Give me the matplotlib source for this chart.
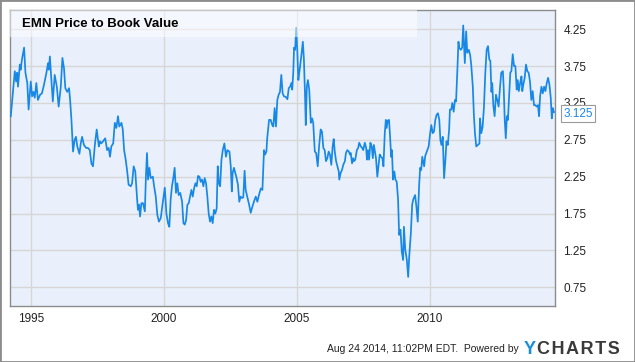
import matplotlib
matplotlib.use("Agg")
import matplotlib.pyplot as plt
from matplotlib.patches import Rectangle

plt.rcParams['font.family'] = ['Liberation Sans', 'DejaVu Sans']

# EMN price to book value (decimal year, value)
years = [
    1994.24, 1994.32, 1994.39, 1994.44, 1994.48, 1994.51, 1994.58, 1994.61, 1994.66, 1994.74,
    1994.79, 1994.86, 1994.91, 1994.99, 1995.04, 1995.09, 1995.14, 1995.20, 1995.26, 1995.34,
    1995.41, 1995.49, 1995.58, 1995.64, 1995.67, 1995.71, 1995.76, 1995.82, 1995.89, 1995.97,
    1996.04, 1996.12, 1996.18, 1996.24, 1996.29, 1996.36, 1996.43, 1996.47, 1996.52, 1996.58,
    1996.64, 1996.69, 1996.74, 1996.82, 1996.87, 1996.92, 1996.99, 1997.07, 1997.14, 1997.21,
    1997.27, 1997.33, 1997.40, 1997.47, 1997.55, 1997.59, 1997.64, 1997.71, 1997.79, 1997.86,
    1997.92, 1997.97, 1998.02, 1998.09, 1998.15, 1998.21, 1998.27, 1998.32, 1998.40, 1998.45,
    1998.50, 1998.56, 1998.61, 1998.67, 1998.75, 1998.80, 1998.86, 1998.92, 1998.99, 1999.02,
    1999.06, 1999.10, 1999.15, 1999.21, 1999.28, 1999.32, 1999.36, 1999.40, 1999.45, 1999.50,
    1999.58, 1999.62, 1999.69, 1999.75, 1999.81, 1999.88, 1999.95, 2000.03, 2000.09, 2000.15,
    2000.20, 2000.25, 2000.30, 2000.35, 2000.40, 2000.45, 2000.50, 2000.55, 2000.61, 2000.68,
    2000.73, 2000.78, 2000.83, 2000.88, 2000.93, 2000.98, 2001.03, 2001.08, 2001.13, 2001.18,
    2001.23, 2001.28, 2001.33, 2001.38, 2001.43, 2001.48, 2001.53, 2001.58, 2001.63, 2001.68,
    2001.73, 2001.78, 2001.83, 2001.88, 2001.93, 2001.98, 2002.02, 2002.06, 2002.11, 2002.16,
    2002.21, 2002.27, 2002.33, 2002.38, 2002.46, 2002.51, 2002.55, 2002.58, 2002.63, 2002.68,
    2002.73, 2002.78, 2002.83, 2002.88, 2002.93, 2002.98, 2003.03, 2003.07, 2003.13, 2003.20,
    2003.26, 2003.32, 2003.38, 2003.45, 2003.51, 2003.57, 2003.64, 2003.70, 2003.76, 2003.80,
    2003.85, 2003.88, 2003.95, 2004.01, 2004.07, 2004.11, 2004.16, 2004.21, 2004.26, 2004.31,
    2004.36, 2004.41, 2004.46, 2004.51, 2004.58, 2004.64, 2004.69, 2004.74, 2004.79, 2004.82,
    2004.86, 2004.89, 2004.93, 2004.95, 2004.97, 2005.01, 2005.05, 2005.10, 2005.16, 2005.22,
    2005.26, 2005.30, 2005.33, 2005.37, 2005.41, 2005.46, 2005.52, 2005.57, 2005.61, 2005.67,
    2005.72, 2005.78, 2005.83, 2005.89, 2005.94, 2005.99, 2006.04, 2006.09, 2006.14, 2006.19,
    2006.24, 2006.29, 2006.34, 2006.38, 2006.42, 2006.47, 2006.52, 2006.57, 2006.59, 2006.64,
    2006.69, 2006.74, 2006.80, 2006.84, 2006.89, 2006.95, 2006.99, 2007.02, 2007.07, 2007.11,
    2007.14, 2007.19, 2007.25, 2007.30, 2007.34, 2007.40, 2007.45, 2007.49, 2007.55, 2007.60,
    2007.63, 2007.67, 2007.71, 2007.76, 2007.81, 2007.85, 2007.89, 2007.92, 2007.97, 2008.02,
    2008.07, 2008.11, 2008.16, 2008.21, 2008.25, 2008.30, 2008.34, 2008.37, 2008.41, 2008.46,
    2008.50, 2008.54, 2008.57, 2008.61, 2008.66, 2008.70, 2008.75, 2008.80, 2008.84, 2008.89,
    2008.94, 2008.99, 2009.02, 2009.07, 2009.13, 2009.18, 2009.22, 2009.28, 2009.33, 2009.37,
    2009.44, 2009.49, 2009.54, 2009.59, 2009.63, 2009.67, 2009.71, 2009.78, 2009.82, 2009.90,
    2009.95, 2010.00, 2010.05, 2010.10, 2010.15, 2010.20, 2010.25, 2010.30, 2010.35, 2010.39,
    2010.43, 2010.48, 2010.53, 2010.58, 2010.62, 2010.67, 2010.72, 2010.75, 2010.80, 2010.84,
    2010.89, 2010.94, 2010.98, 2011.03, 2011.07, 2011.10, 2011.16, 2011.21, 2011.25, 2011.31,
    2011.36, 2011.40, 2011.46, 2011.51, 2011.55, 2011.61, 2011.65, 2011.69, 2011.74, 2011.80,
    2011.86, 2011.88, 2011.93, 2011.98, 2012.03, 2012.08, 2012.13, 2012.18, 2012.23, 2012.27,
    2012.31, 2012.34, 2012.38, 2012.43, 2012.48, 2012.53, 2012.58, 2012.63, 2012.68, 2012.74,
    2012.77, 2012.81, 2012.85, 2012.89, 2012.93, 2012.98, 2013.02, 2013.06, 2013.11, 2013.16,
    2013.21, 2013.26, 2013.30, 2013.34, 2013.39, 2013.44, 2013.47, 2013.51, 2013.56, 2013.61,
    2013.66, 2013.71, 2013.76, 2013.81, 2013.86, 2013.91, 2013.96, 2014.01, 2014.06, 2014.10,
    2014.14, 2014.19, 2014.24, 2014.29, 2014.34, 2014.39, 2014.44, 2014.49, 2014.54, 2014.58,
    2014.62, 2014.66,
]
pb_values = [
    3.07, 3.40, 3.68, 3.54, 3.66, 3.47, 3.77, 3.70, 3.84, 4.00,
    3.66, 3.52, 3.16, 3.54, 3.34, 3.40, 3.32, 3.52, 3.29, 3.36,
    3.38, 3.50, 3.66, 3.79, 3.70, 3.88, 3.59, 3.27, 3.63, 3.47,
    3.20, 3.47, 3.86, 3.72, 3.45, 3.40, 3.45, 3.29, 3.02, 2.59,
    2.75, 2.79, 2.66, 2.56, 2.70, 2.79, 2.68, 2.64, 2.64, 2.61,
    2.43, 2.39, 2.68, 2.89, 2.66, 2.73, 2.70, 2.73, 2.77, 2.61,
    2.64, 2.52, 2.66, 2.70, 2.98, 2.91, 3.07, 2.93, 2.98, 2.89,
    2.61, 2.48, 2.34, 2.14, 2.12, 2.16, 2.39, 2.32, 1.94, 1.80,
    1.87, 1.71, 1.89, 1.89, 1.78, 2.25, 2.57, 2.21, 2.37, 2.23,
    2.25, 2.14, 1.98, 1.73, 1.64, 1.69, 1.89, 2.10, 1.75, 1.62,
    1.57, 1.94, 2.12, 2.23, 2.37, 2.03, 2.16, 2.00, 2.03, 1.91,
    1.62, 1.60, 1.66, 1.87, 1.89, 1.98, 2.07, 1.98, 2.09, 2.16,
    2.12, 2.26, 2.25, 2.18, 2.21, 2.12, 2.23, 2.16, 1.98, 1.75,
    1.64, 1.71, 1.62, 1.80, 1.75, 1.82, 2.39, 2.16, 2.12, 2.48,
    2.61, 2.70, 2.52, 2.61, 2.59, 2.39, 2.05, 2.30, 2.37, 2.30,
    2.23, 2.14, 1.91, 1.98, 1.96, 1.97, 2.33, 2.07, 1.98, 1.87,
    1.76, 1.84, 1.91, 1.98, 1.91, 2.00, 2.09, 2.07, 2.61, 2.55,
    2.59, 2.77, 3.02, 3.02, 2.95, 2.93, 3.18, 2.93, 3.29, 3.36,
    3.40, 3.63, 3.38, 3.34, 3.33, 3.30, 3.45, 3.47, 3.52, 3.43,
    3.66, 4.00, 3.97, 4.13, 4.27, 3.97, 3.56, 3.70, 3.88, 4.08,
    3.84, 3.38, 2.95, 3.47, 3.56, 3.43, 2.98, 3.04, 2.98, 2.59,
    2.57, 2.39, 2.66, 2.89, 2.86, 2.64, 2.61, 2.46, 2.50, 2.59,
    2.55, 2.41, 2.66, 2.76, 2.59, 2.46, 2.39, 2.32, 2.21, 2.30,
    2.34, 2.41, 2.46, 2.57, 2.61, 2.59, 2.55, 2.57, 2.43, 2.50,
    2.46, 2.48, 2.61, 2.64, 2.71, 2.66, 2.64, 2.61, 2.71, 2.64,
    2.48, 2.61, 2.48, 2.71, 2.66, 2.50, 2.68, 2.61, 2.50, 2.25,
    2.41, 2.55, 2.52, 2.50, 2.39, 2.84, 3.02, 2.91, 3.01, 3.02,
    2.79, 2.52, 2.61, 2.21, 2.32, 2.21, 2.18, 1.94, 1.46, 1.53,
    1.23, 1.12, 1.57, 1.26, 1.12, 0.89, 1.17, 1.48, 1.87, 1.94,
    2.00, 1.84, 1.64, 2.12, 2.37, 2.34, 2.52, 2.39, 2.53, 2.61,
    2.66, 2.82, 2.95, 2.84, 2.86, 3.02, 3.09, 3.11, 3.02, 2.75,
    2.68, 2.79, 2.23, 2.48, 2.73, 2.68, 2.89, 3.16, 3.16, 3.25,
    3.13, 3.29, 3.27, 3.70, 4.08, 4.00, 3.97, 4.00, 4.30, 3.79,
    4.22, 3.93, 3.97, 3.90, 3.77, 3.47, 3.09, 2.84, 2.66, 2.68,
    2.70, 3.04, 2.84, 2.93, 3.20, 3.66, 3.97, 4.02, 3.84, 3.82,
    3.40, 3.52, 3.22, 3.07, 3.36, 3.29, 3.20, 3.45, 3.66, 3.68,
    3.47, 3.02, 2.77, 3.07, 3.02, 3.38, 3.66, 3.68, 3.91, 3.75,
    3.75, 3.43, 3.56, 3.41, 3.52, 3.61, 3.41, 3.50, 3.59, 3.77,
    3.68, 3.66, 3.54, 3.29, 3.41, 3.22, 3.22, 3.20, 3.22, 3.07,
    3.34, 3.47, 3.38, 3.47, 3.41, 3.52, 3.59, 3.50, 3.32, 3.04,
    3.18, 3.125,
]

y_ticks = [0.75, 1.25, 1.75, 2.25, 2.75, 3.25, 3.75, 4.25]
x_ticks = [1995, 2000, 2005, 2010]
last_value = "3.125"
title = "EMN Price to Book Value"
footer = "Aug 24 2014, 11:02PM EDT.  Powered by"

line_color = '#1788e6'
W, H = 635, 362

fig = plt.figure(figsize=(W / 100, H / 100), dpi=100)
fig.patch.set_facecolor('white')
ax = fig.add_axes([10 / W, (H - 306) / H, 545 / W, 296 / H])
ax.set_facecolor('#e9f0fb')

ax.plot(years, pb_values, color=line_color, lw=1.25, zorder=3)

ax.set_xlim(1994.21, 2014.70)
ax.set_ylim(0.496, 4.51)
ax.set_xticks(x_ticks)
ax.set_yticks(y_ticks)
ax.set_yticklabels([f"{t:.2f}" for t in y_ticks])
ax.yaxis.tick_right()
ax.tick_params(length=0, labelsize=8.5, labelcolor='#222222')
ax.tick_params(axis='y', pad=6)
ax.tick_params(axis='x', pad=5)
ax.grid(True, color='#d6d6d6', lw=1)
ax.set_axisbelow(True)
for s in ax.spines.values():
    s.set_color('#8c8c8c')
    s.set_linewidth(1)

# translucent title band
ax.add_patch(Rectangle((0, 1 - 27 / 296), 407 / 545, 27 / 296, transform=ax.transAxes,
                       facecolor='white', alpha=0.5, lw=0, zorder=4))
ax.text(12 / 545, 1 - 14 / 296, title, transform=ax.transAxes, fontsize=9.5,
        fontweight='bold', color='black', va='center', ha='left', zorder=5)

# last value flag
ax.annotate(last_value, xy=(1, float(last_value)), xycoords=('axes fraction', 'data'),
            xytext=(6, -1), textcoords='offset points', fontsize=8.5, color=line_color,
            va='center', ha='left', annotation_clip=False, zorder=6,
            bbox=dict(boxstyle='square,pad=0.2', fc='white', ec='#9a9a9a', lw=0.8))

# footer
fig.text(519 / W, 1 - 349 / H, footer, fontsize=7.5, color='#222222',
         ha='right', va='center')
y_logo = fig.text(524 / W, 1 - 349 / H, "Y", fontsize=13, fontweight='bold',
                  color='#1a8ddb', ha='left', va='center')
ax.annotate("C H A R T S".replace(" ", "\u200a"), xy=(1, 0.5), xycoords=y_logo,
            xytext=(1, 0), textcoords='offset points', fontsize=13, fontweight='bold',
            color='#3a3a3a', ha='left', va='center', annotation_clip=False)

fig.patches.append(Rectangle((0, 0), 1, 1, transform=fig.transFigure, fill=False,
                             edgecolor='#8c8c8c', lw=2, zorder=10))

fig.savefig('out.png', dpi=100)
